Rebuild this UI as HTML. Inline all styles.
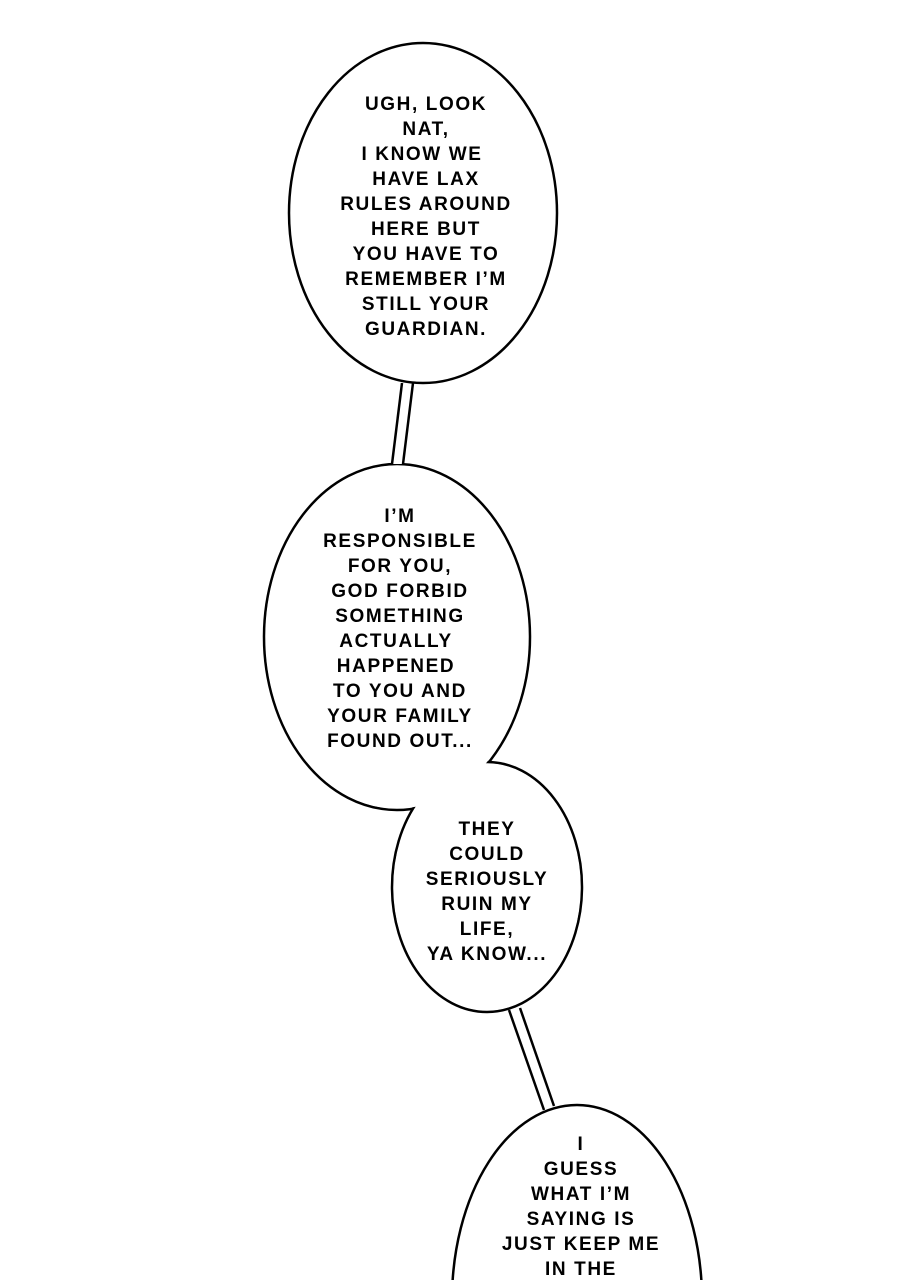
<!DOCTYPE html>
<html><head><meta charset="utf-8"><style>
html,body{margin:0;padding:0;background:#fff;width:900px;height:1280px;overflow:hidden;}
svg{display:block}
text{font-family:"Liberation Sans",sans-serif;font-weight:bold;font-size:19px;letter-spacing:1.6px;fill:#000;text-anchor:middle}
</style></head><body>
<svg width="900" height="1280" viewBox="0 0 900 1280">
<rect width="900" height="1280" fill="#fff"/>
<!-- bubble 1 -->
<ellipse cx="423" cy="213" rx="134" ry="170" fill="#fff" stroke="#000" stroke-width="2.5"/>
<!-- bubbles 2+3 merged -->
<ellipse cx="397" cy="637" rx="133" ry="173" fill="#fff" stroke="#000" stroke-width="2.5"/>
<ellipse cx="487" cy="887" rx="95" ry="125" fill="#fff" stroke="#000" stroke-width="2.5"/>
<ellipse cx="397" cy="637" rx="131.5" ry="171.5" fill="#fff"/>
<ellipse cx="487" cy="887" rx="93.5" ry="123.5" fill="#fff"/>
<!-- bubble 4 -->
<ellipse cx="577" cy="1300" rx="125" ry="195" fill="#fff" stroke="#000" stroke-width="2.5"/>
<!-- connectors -->
<polygon points="404,384 413,384 402,464 393,464" fill="#fff"/>
<polygon points="510,1010 519,1008 553,1106 545,1110" fill="#fff"/>
<g stroke="#000" stroke-width="2.5" fill="none">
<line x1="402" y1="383" x2="392" y2="464"/>
<line x1="413" y1="383" x2="403" y2="464"/>
<line x1="509" y1="1010" x2="544" y2="1110"/>
<line x1="520" y1="1008" x2="554" y2="1106"/>
</g>
<g>
<text x="426" y="110">UGH, LOOK</text>
<text x="426" y="135">NAT,</text>
<text x="422" y="160">I KNOW WE</text>
<text x="426" y="185">HAVE LAX</text>
<text x="426" y="210">RULES AROUND</text>
<text x="426" y="235">HERE BUT</text>
<text x="426" y="260">YOU HAVE TO</text>
<text x="426" y="285">REMEMBER I’M</text>
<text x="426" y="310">STILL YOUR</text>
<text x="426" y="335">GUARDIAN.</text>

<text x="400" y="522">I’M</text>
<text x="400" y="547">RESPONSIBLE</text>
<text x="400" y="572">FOR YOU,</text>
<text x="400" y="597">GOD FORBID</text>
<text x="400" y="622">SOMETHING</text>
<text x="396" y="647">ACTUALLY</text>
<text x="396" y="672">HAPPENED</text>
<text x="400" y="697">TO YOU AND</text>
<text x="400" y="722">YOUR FAMILY</text>
<text x="400" y="747">FOUND OUT...</text>

<text x="487" y="835">THEY</text>
<text x="487" y="860">COULD</text>
<text x="487" y="885">SERIOUSLY</text>
<text x="487" y="910">RUIN MY</text>
<text x="487" y="935">LIFE,</text>
<text x="487" y="960">YA KNOW...</text>

<text x="581" y="1150">I</text>
<text x="581" y="1175">GUESS</text>
<text x="581" y="1200">WHAT I’M</text>
<text x="581" y="1225">SAYING IS</text>
<text x="581" y="1250">JUST KEEP ME</text>
<text x="581" y="1275">IN THE</text>
</g>
</svg>
</body></html>
